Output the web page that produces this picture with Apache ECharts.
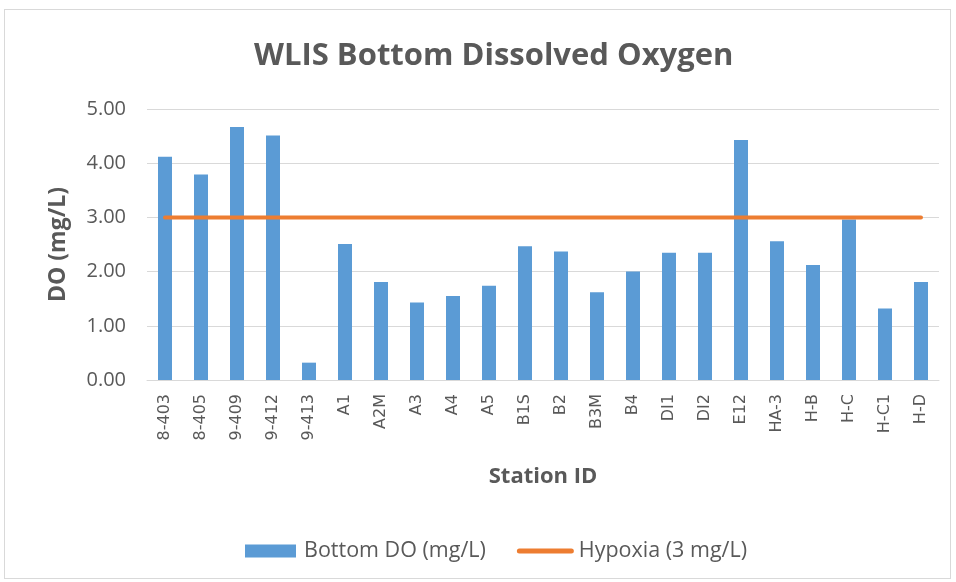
<!DOCTYPE html>
<html>
<head>
<meta charset="utf-8">
<script src="https://cdn.jsdelivr.net/npm/echarts@6/dist/echarts.min.js"></script>
<style>
  html, body { margin: 0; padding: 0; background: #fff; }
  #frame { position: absolute; left: 4px; top: 9px; width: 945px; height: 568px; border: 1px solid #d9d9d9; }
  #chart { width: 956px; height: 582px; position: absolute; left: 0; top: 0; }
</style>
</head>
<body>
<div id="frame"></div>
<div id="chart"></div>
<script>
// station ids along the x axis
const stations = ['8-403', '8-405', '9-409', '9-412', '9-413', 'A1', 'A2M', 'A3', 'A4', 'A5',
  'B1S', 'B2', 'B3M', 'B4', 'DI1', 'DI2', 'E12', 'HA-3', 'H-B', 'H-C', 'H-C1', 'H-D']
// bottom dissolved oxygen (mg/L)
const bottomDO = [4.12, 3.79, 4.67, 4.51, 0.32, 2.51, 1.81, 1.43, 1.55, 1.74,
  2.47, 2.37, 1.62, 2.00, 2.35, 2.35, 4.43, 2.56, 2.12, 2.96, 1.32, 1.81]
// hypoxia threshold
const hypoxia = [3, 3, 3, 3, 3, 3, 3, 3, 3, 3, 3, 3, 3, 3, 3, 3, 3, 3, 3, 3, 3, 3]

const font = '"Open Sans", "Noto Sans", sans-serif'
const chart = echarts.init(document.getElementById('chart'))

chart.setOption({
  animation: false,
  title: {
    text: 'WLIS Bottom Dissolved Oxygen',
    left: 249,
    top: 36,
    textStyle: { fontFamily: font, fontSize: 31, fontWeight: 'bold', color: '#595959' }
  },
  legend: {
    top: 535,
    left: 240,
    itemWidth: 57,
    itemHeight: 13,
    itemGap: 31,
    textStyle: { fontFamily: font, fontSize: 21.5, color: '#595959' },
    data: [
      { name: 'Bottom DO (mg/L)', icon: 'path://M0,0 H51 V13 H0 Z' },
      { name: 'Hypoxia (3 mg/L)', icon: 'path://M2.5,0 L54.5,0 A2.5,2.5 0 0 1 54.5,5 L2.5,5 A2.5,2.5 0 0 1 2.5,0 Z' }
    ]
  },
  grid: { left: 147, right: 17, top: 109, bottom: 202 },
  xAxis: {
    type: 'category',
    data: stations,
    name: 'Station ID',
    nameLocation: 'middle',
    nameGap: 86,
    nameTextStyle: { fontFamily: font, fontSize: 22, fontWeight: 'bold', color: '#595959' },
    axisLine: { lineStyle: { color: '#d9d9d9', width: 1 } },
    axisTick: { show: false },
    axisLabel: { rotate: 90, fontFamily: '"DejaVu Sans", sans-serif', fontSize: 16, color: '#595959', margin: 14 }
  },
  yAxis: {
    type: 'value',
    min: 0,
    max: 5,
    interval: 1,
    name: 'DO (mg/L)',
    nameLocation: 'middle',
    nameGap: 77,
    nameTextStyle: { fontFamily: font, fontSize: 23, fontWeight: 'bold', color: '#595959' },
    axisLine: { show: false },
    axisTick: { show: false },
    axisLabel: {
      fontFamily: font, fontSize: 20, color: '#595959', margin: 21,
      formatter: v => v.toFixed(2)
    },
    splitLine: { lineStyle: { color: '#d9d9d9', width: 1 } }
  },
  series: [
    {
      name: 'Bottom DO (mg/L)',
      type: 'bar',
      data: bottomDO,
      barWidth: 14,
      itemStyle: { color: '#5b9bd5' }
    },
    {
      name: 'Hypoxia (3 mg/L)',
      type: 'line',
      data: hypoxia,
      symbol: 'none',
      lineStyle: { color: '#ed7d31', width: 4, cap: 'round' },
      itemStyle: { color: '#ed7d31' }
    }
  ]
})
</script>
</body>
</html>
